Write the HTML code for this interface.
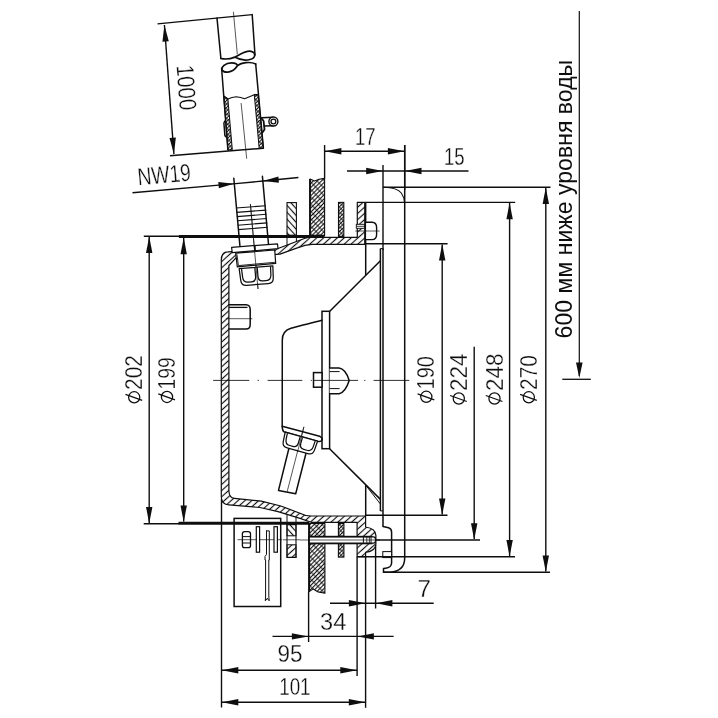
<!DOCTYPE html>
<html lang="ru">
<head>
<meta charset="utf-8">
<title>Drawing</title>
<style>
html,body{margin:0;padding:0;background:#fff;}
body{width:718px;height:718px;overflow:hidden;font-family:"Liberation Sans",sans-serif;}
svg{display:block;position:absolute;left:0;top:0;filter:grayscale(1);}
text{font-family:"Liberation Sans",sans-serif;fill:#0e0e0e;}
text.cad{stroke:#fff;stroke-width:0.3px;}
</style>
</head>
<body>
<svg width="718" height="718" viewBox="0 0 718 718">
<defs>
<pattern id="hA" width="4.6" height="4.6" patternUnits="userSpaceOnUse" patternTransform="rotate(-42)">
<line x1="0" y1="2.3" x2="4.6" y2="2.3" stroke="#0e0e0e" stroke-width="1.15"/>
</pattern>
<pattern id="hB" width="4.6" height="4.6" patternUnits="userSpaceOnUse" patternTransform="rotate(48)">
<line x1="0" y1="2.3" x2="4.6" y2="2.3" stroke="#0e0e0e" stroke-width="1.15"/>
</pattern>
<pattern id="hX" width="5.2" height="2.9" patternUnits="userSpaceOnUse" patternTransform="rotate(-45)">
<line x1="0" y1="1.45" x2="5.2" y2="1.45" stroke="#0e0e0e" stroke-width="1.1"/>
<line x1="2.6" y1="0" x2="2.6" y2="2.9" stroke="#0e0e0e" stroke-width="0.85"/>
</pattern>
<pattern id="hXs" width="3.4" height="2.5" patternUnits="userSpaceOnUse" patternTransform="rotate(-45)">
<line x1="0" y1="1.25" x2="3.4" y2="1.25" stroke="#0e0e0e" stroke-width="1.0"/>
<line x1="1.7" y1="0" x2="1.7" y2="2.5" stroke="#0e0e0e" stroke-width="0.85"/>
</pattern>
</defs>
<rect x="0" y="0" width="718" height="718" fill="#fff"/>

<g id="hose">
<path d="M217,18.1 L220.9,58.5" fill="none" stroke="#0e0e0e" stroke-width="1.5" stroke-linejoin="round" stroke-linecap="round"/>
<path d="M252.2,14.6 L255,55" fill="none" stroke="#0e0e0e" stroke-width="1.5" stroke-linejoin="round" stroke-linecap="round"/>
<path d="M220.9,58.5 Q228,60 234.8,57.1 C240,54.5 246,50.3 251,51.3 C256.2,52.4 256,58 250,59.5 C244,61 238,59 234.8,57.1" fill="none" stroke="#0e0e0e" stroke-width="1.7" stroke-linejoin="round" stroke-linecap="round"/>
<path d="M237.6,65.5 C236,62 228,62 224,65.3 C220,69 222,72.6 228,72.1 C233,71.6 236,68 237.6,65.5 C241,63 250,61 255.7,64.1" fill="none" stroke="#0e0e0e" stroke-width="1.7" stroke-linejoin="round" stroke-linecap="round"/>
<path d="M221.6,68.2 L227.9,150" fill="none" stroke="#0e0e0e" stroke-width="1.5" stroke-linejoin="round" stroke-linecap="round"/>
<path d="M255.7,64.1 L263.4,148.2" fill="none" stroke="#0e0e0e" stroke-width="1.5" stroke-linejoin="round" stroke-linecap="round"/>
<path d="M223.8,96.3 L227.9,150 L232.3,149.6 L227.9,99 Z" fill="url(#hXs)" stroke="#0e0e0e" stroke-width="1" stroke-linejoin="round" stroke-linecap="round"/>
<path d="M254.3,94.8 L259.2,148.6 L263.4,148.2 L258.4,95 Z" fill="url(#hXs)" stroke="#0e0e0e" stroke-width="1" stroke-linejoin="round" stroke-linecap="round"/>
<path d="M223.8,96.3 L227.9,99 Q232,97 236.2,96.7 Q241,97.2 244.6,98.8 L254.3,94.7 L258.4,95" fill="none" stroke="#0e0e0e" stroke-width="1.1" stroke-linejoin="round" stroke-linecap="round"/>
<line x1="233.4" y1="11.8" x2="237.3" y2="54.3" stroke="#0e0e0e" stroke-width="0.7"/>
<line x1="241.1" y1="103" x2="246.7" y2="158.7" stroke="#0e0e0e" stroke-width="0.7"/>
<path d="M224.9,121 L223.9,123 L224.9,135.6 L226.5,137.2" fill="none" stroke="#0e0e0e" stroke-width="1.5" stroke-linejoin="round" stroke-linecap="round"/>
<path d="M261.3,118 L263.6,121 L264.5,129.5 L262.6,132.3" fill="none" stroke="#0e0e0e" stroke-width="1.8" stroke-linejoin="round" stroke-linecap="round"/>
<line x1="261.6" y1="117.7" x2="273.2" y2="117.3" stroke="#0e0e0e" stroke-width="1.5"/>
<line x1="263.6" y1="126" x2="273.6" y2="125.7" stroke="#0e0e0e" stroke-width="1.5"/>
<circle cx="273.4" cy="121.5" r="4.5" fill="#fff" stroke="#0e0e0e" stroke-width="1.4"/>
<circle cx="273.4" cy="121.5" r="2.4" fill="none" stroke="#0e0e0e" stroke-width="1.3"/>
</g>
<g id="fitting">
<path d="M233.8,178.2 L239.93,246" fill="none" stroke="#0e0e0e" stroke-width="1.5" stroke-linejoin="round" stroke-linecap="round"/>
<path d="M262.41,176.3 L268.52,244.5" fill="none" stroke="#0e0e0e" stroke-width="1.5" stroke-linejoin="round" stroke-linecap="round"/>
<line x1="236.09" y1="208" x2="265.75" y2="205.7" stroke="#0e0e0e" stroke-width="1.15"/>
<line x1="236.49" y1="212.4" x2="266.14" y2="210.1" stroke="#0e0e0e" stroke-width="1.15"/>
<line x1="236.87" y1="216.6" x2="266.52" y2="214.3" stroke="#0e0e0e" stroke-width="1.15"/>
<line x1="237.25" y1="220.8" x2="266.89" y2="218.5" stroke="#0e0e0e" stroke-width="1.15"/>
<line x1="237.65" y1="225.2" x2="267.29" y2="222.9" stroke="#0e0e0e" stroke-width="1.15"/>
<line x1="238.05" y1="229.6" x2="267.68" y2="227.3" stroke="#0e0e0e" stroke-width="1.15"/>
<line x1="250.4" y1="204" x2="258" y2="289" stroke="#0e0e0e" stroke-width="0.7"/>
</g>
<g id="topbars">
<rect x="287" y="202.6" width="9.4" height="32.6" fill="url(#hB)" stroke="#0e0e0e" stroke-width="1.1"/>
<line x1="287" y1="237.8" x2="287" y2="245.2" stroke="#0e0e0e" stroke-width="1"/>
<line x1="296.4" y1="237.8" x2="296.4" y2="241.8" stroke="#0e0e0e" stroke-width="1"/>
<path d="M310,179 L314.6,180.9 L319,179.3 L324.6,178.4 L324.6,235.4 L310,235.4 Z" fill="url(#hX)" stroke="#0e0e0e" stroke-width="1.1" stroke-linejoin="round" stroke-linecap="round"/>
<line x1="310" y1="179" x2="310" y2="235.4" stroke="#0e0e0e" stroke-width="1.8"/>
<rect x="338.5" y="202.4" width="5.3" height="34" fill="url(#hXs)" stroke="#0e0e0e" stroke-width="1.1"/>
</g>
<g id="housing">
<path d="M221.3,260 Q221.3,252 228,251.9 L278,248.5 L303.7,238.8 L308,237.4 L357.3,237.4 L357.3,202.4 L365.3,202.4 L365.3,244.4 L312,244.4 Q305,244.8 298,247.6 L280,254.1 L236.2,257.6 L228.9,265.5 L228.9,491 Q229.2,497.8 234.5,498.4 L261.3,501.1 L280.8,506 L300,513.2 Q305,516 311.2,516 L365.6,516 L365.6,527 Q375.8,528.5 375.9,535.5 L375.9,544 Q375.8,551 365.6,552.4 L365.6,556.6 L357.1,556.6 L357.1,522.3 L311.1,522.3 L300,518.4 L278,511.6 L259.9,507.5 L229,504.8 Q221.3,504.5 221.3,497 Z" fill="url(#hA)" stroke="#0e0e0e" stroke-width="1.2" stroke-linejoin="round" stroke-linecap="round"/>
<line x1="178.9" y1="236.6" x2="324.6" y2="236.6" stroke="#0e0e0e" stroke-width="3"/>
<line x1="178.5" y1="523.3" x2="309.3" y2="523.3" stroke="#0e0e0e" stroke-width="3"/>
<line x1="365.3" y1="202.4" x2="365.3" y2="244.4" stroke="#0e0e0e" stroke-width="2.2"/>
<path d="M366.2,222.2 L372,222.2 Q376.6,222.4 376.6,227.4 L376.6,234.4 Q376.6,239.4 372,239.6 L366.2,239.6" fill="#fff" stroke="#0e0e0e" stroke-width="1.4" stroke-linejoin="round" stroke-linecap="round"/>
<line x1="355.3" y1="231" x2="379.7" y2="231" stroke="#0e0e0e" stroke-width="0.7"/>
<rect x="356.3" y="224.3" width="8.1" height="4" fill="#fff" stroke="#0e0e0e" stroke-width="0.9"/>
<line x1="356.3" y1="226.3" x2="364.4" y2="226.3" stroke="#0e0e0e" stroke-width="0.8"/>
</g>
<g id="topgland">
<path d="M231.6,247.3 L277.5,243.8 L278,248.7 L232.2,252.6 Z" fill="#fff" stroke="#0e0e0e" stroke-width="1.2" stroke-linejoin="round" stroke-linecap="round"/>
<path d="M235.7,253.2 L274.7,250 L275.7,263.4 L237.3,266.9 Z" fill="#fff" stroke="#0e0e0e" stroke-width="1.2" stroke-linejoin="round" stroke-linecap="round"/>
<path d="M237,254.6 L238.4,265.6 L274.6,262.3" fill="none" stroke="#0e0e0e" stroke-width="0.9" stroke-linejoin="round" stroke-linecap="round"/>
<g transform="translate(256,267.3) rotate(-4.9)">
<path d="M-16.9,0 L-16.3,12 Q-16,17.2 -10.8,17.2 L10.8,17.2 Q16,17.2 16.3,12 L16.9,0 Z" fill="#fff" stroke="#0e0e0e" stroke-width="1.25" stroke-linejoin="round" stroke-linecap="round"/>
<path d="M-14.5,0.8 L-14.2,8.7 Q-13.9,14.2 -9,14.2 L-5.7,14.2 Q-1.2,14.2 -1.2,9.2 L-1.2,0.8" fill="none" stroke="#0e0e0e" stroke-width="1.25" stroke-linejoin="round" stroke-linecap="round"/>
<path d="M14.5,0.8 L14.2,8.7 Q13.9,14.2 9,14.2 L5.7,14.2 Q1.2,14.2 1.2,9.2 L1.2,0.8" fill="none" stroke="#0e0e0e" stroke-width="1.25" stroke-linejoin="round" stroke-linecap="round"/>
</g>
<line x1="254.7" y1="245.6" x2="255.1" y2="251" stroke="#0e0e0e" stroke-width="1.8"/>
<line x1="250.4" y1="204" x2="258" y2="289" stroke="#0e0e0e" stroke-width="0.7"/>
</g>
<path d="M228.9,304.8 L246,304.8 Q250.2,305 250.2,309.5 L250.2,324.5 Q250.2,329.1 246,329.1 L228.9,329.1" fill="none" stroke="#0e0e0e" stroke-width="1.5" stroke-linejoin="round" stroke-linecap="round"/>
<line x1="228.9" y1="307.4" x2="247.5" y2="307.4" stroke="#0e0e0e" stroke-width="1.3"/>
<line x1="226" y1="318.7" x2="252.4" y2="318.7" stroke="#0e0e0e" stroke-width="0.7"/>
<g id="lamp">
<line x1="365.7" y1="244.4" x2="365.7" y2="275" stroke="#0e0e0e" stroke-width="1.5"/>
<line x1="380.4" y1="260.8" x2="329.8" y2="311.3" stroke="#0e0e0e" stroke-width="1.5"/>
<line x1="380.4" y1="248.6" x2="380.4" y2="510.9" stroke="#0e0e0e" stroke-width="1.5"/>
<line x1="383" y1="248.6" x2="383" y2="526.4" stroke="#0e0e0e" stroke-width="1.5"/>
<line x1="380.4" y1="248.6" x2="383" y2="248.6" stroke="#0e0e0e" stroke-width="1"/>
<rect x="322" y="311.3" width="7.6" height="137.4" fill="#fff" stroke="#0e0e0e" stroke-width="1.5"/>
<path d="M322,320.2 C312,323 300,325.5 291,328.2 Q282.3,330.8 282.3,340 L282.2,426.3 L319.6,436.2 Q322,437 322.2,439.4" fill="none" stroke="#0e0e0e" stroke-width="1.5" stroke-linejoin="round" stroke-linecap="round"/>
<path d="M282.2,426.3 Q282.2,430.6 283.8,431.7 L319.0,441.6 Q321.6,441.8 322.2,439.4" fill="none" stroke="#0e0e0e" stroke-width="1.5" stroke-linejoin="round" stroke-linecap="round"/>
<line x1="329.6" y1="448.7" x2="380.4" y2="499.4" stroke="#0e0e0e" stroke-width="1.5"/>
<line x1="365.7" y1="485.2" x2="380.4" y2="504" stroke="#0e0e0e" stroke-width="1"/>
<line x1="365.7" y1="485.2" x2="365.7" y2="516" stroke="#0e0e0e" stroke-width="1.5"/>
<line x1="380.4" y1="510.9" x2="383" y2="510.9" stroke="#0e0e0e" stroke-width="1"/>
<rect x="313.5" y="372.6" width="8.5" height="14.6" fill="#fff" stroke="#0e0e0e" stroke-width="1.5"/>
<path d="M329.6,368.1 L339.1,368.1 Q345.5,369 349.2,380.4 Q345.5,392 339.1,393.8 L329.6,393.8" fill="#fff" stroke="#0e0e0e" stroke-width="1.5" stroke-linejoin="round" stroke-linecap="round"/>
<line x1="329.6" y1="371.6" x2="339.6" y2="371.6" stroke="#0e0e0e" stroke-width="1"/>
<line x1="329.6" y1="388.6" x2="339.6" y2="388.6" stroke="#0e0e0e" stroke-width="1"/>
<line x1="213.1" y1="380.4" x2="249.3" y2="380.4" stroke="#0e0e0e" stroke-width="0.85"/>
<line x1="257.6" y1="380.4" x2="258.9" y2="380.4" stroke="#0e0e0e" stroke-width="0.85"/>
<line x1="267.6" y1="380.4" x2="302.3" y2="380.4" stroke="#0e0e0e" stroke-width="0.85"/>
<line x1="310.8" y1="380.4" x2="311.9" y2="380.4" stroke="#0e0e0e" stroke-width="0.85"/>
<line x1="313.6" y1="380.4" x2="358" y2="380.4" stroke="#0e0e0e" stroke-width="0.85"/>
<line x1="364.2" y1="380.4" x2="365.4" y2="380.4" stroke="#0e0e0e" stroke-width="0.85"/>
<line x1="373.6" y1="380.4" x2="409.3" y2="380.4" stroke="#0e0e0e" stroke-width="0.85"/>
<path d="M289,448 L278.5,490.4 L295.7,493.7 L306,453.2" fill="#fff" stroke="#0e0e0e" stroke-width="1.5" stroke-linejoin="round" stroke-linecap="round"/>
<line x1="303.9" y1="426.8" x2="287.2" y2="491.5" stroke="#0e0e0e" stroke-width="0.7"/>
<g transform="translate(301.4,436.7) rotate(15.6)">
<path d="M-16.8,0 L-16.2,9.4 Q-15.9,14.6 -10.7,14.6 L10.7,14.6 Q15.9,14.6 16.2,9.4 L16.8,0 Z" fill="#fff" stroke="#0e0e0e" stroke-width="1.25" stroke-linejoin="round" stroke-linecap="round"/>
<path d="M-14.4,0.8 L-14.1,6.1 Q-13.8,11.6 -8.9,11.6 L-5.7,11.6 Q-1.2,11.6 -1.2,6.6 L-1.2,0.8" fill="none" stroke="#0e0e0e" stroke-width="1.25" stroke-linejoin="round" stroke-linecap="round"/>
<path d="M14.4,0.8 L14.1,6.1 Q13.8,11.6 8.9,11.6 L5.7,11.6 Q1.2,11.6 1.2,6.6 L1.2,0.8" fill="none" stroke="#0e0e0e" stroke-width="1.25" stroke-linejoin="round" stroke-linecap="round"/>
</g>
<line x1="303.9" y1="426.8" x2="297.5" y2="452" stroke="#0e0e0e" stroke-width="0.7"/>
</g>
<g id="ring">
<line x1="404.7" y1="145" x2="404.7" y2="558" stroke="#0e0e0e" stroke-width="1.5"/>
<path d="M384,187.3 C392,187.6 398.5,189.4 401.3,193 C403.5,196 404.4,199 404.6,203" fill="none" stroke="#0e0e0e" stroke-width="1.1" stroke-linejoin="round" stroke-linecap="round"/>
<path d="M404.7,558 C404.7,567 399,571.6 390,572.3 L383.5,572.3" fill="none" stroke="#0e0e0e" stroke-width="1.5" stroke-linejoin="round" stroke-linecap="round"/>
<path d="M383.0,526.4 L388.5,527.8 Q391.6,528.6 391.6,532.2 L391.6,563 Q391.4,567.6 385.5,568.3 L383.5,568.6 L383.5,572.3" fill="none" stroke="#0e0e0e" stroke-width="1.5" stroke-linejoin="round" stroke-linecap="round"/>
<rect x="382.8" y="551.6" width="8.8" height="6" fill="#fff" stroke="#0e0e0e" stroke-width="1"/>
</g>
<g id="bottom">
<line x1="287" y1="514.6" x2="287" y2="524.6" stroke="#0e0e0e" stroke-width="1"/>
<line x1="296" y1="517.2" x2="296" y2="524.6" stroke="#0e0e0e" stroke-width="1"/>
<rect x="287" y="524.6" width="9" height="32.8" fill="#fff" stroke="#0e0e0e" stroke-width="1.1"/>
<rect x="287" y="524.6" width="9" height="11.2" fill="url(#hB)" stroke="#0e0e0e" stroke-width="1"/>
<rect x="287" y="544.8" width="9" height="12.6" fill="url(#hA)" stroke="#0e0e0e" stroke-width="1"/>
<path d="M309.3,523.5 L324.9,523.5 L324.9,593.2 L318.1,591.9 L313.2,589.1 L309.3,591.4 Z" fill="url(#hX)" stroke="#0e0e0e" stroke-width="1.1" stroke-linejoin="round" stroke-linecap="round"/>
<line x1="309.1" y1="523.5" x2="309.1" y2="592" stroke="#0e0e0e" stroke-width="2"/>
<rect x="338.4" y="523.5" width="5.5" height="33.6" fill="url(#hXs)" stroke="#0e0e0e" stroke-width="1.1"/>
<rect x="309" y="536.7" width="62.5" height="6.7" fill="#fff" stroke="#0e0e0e" stroke-width="1.8"/>
<path d="M371.5,536.9 L373.5,536.9 Q375.6,537 375.6,540 Q375.6,543 373.5,543.2 L371.5,543.2" fill="#fff" stroke="#0e0e0e" stroke-width="1.2" stroke-linejoin="round" stroke-linecap="round"/>
<line x1="363.4" y1="536.7" x2="363.4" y2="543.4" stroke="#0e0e0e" stroke-width="1"/>
<line x1="366.8" y1="536.7" x2="366.8" y2="543.4" stroke="#0e0e0e" stroke-width="0.8"/>
<line x1="369.4" y1="536.7" x2="369.4" y2="543.4" stroke="#0e0e0e" stroke-width="0.8"/>
<line x1="300" y1="540" x2="380" y2="540" stroke="#0e0e0e" stroke-width="0.7"/>
<line x1="283" y1="539.8" x2="300" y2="539.8" stroke="#0e0e0e" stroke-width="0.7"/>
<rect x="234.1" y="518.4" width="46.6" height="88.1" fill="none" stroke="#0e0e0e" stroke-width="1.5"/>
<rect x="242.4" y="531.6" width="8.1" height="16" fill="#fff" stroke="#0e0e0e" stroke-width="1.3" rx="2.2"/>
<line x1="242.4" y1="536.6" x2="250.5" y2="536.6" stroke="#0e0e0e" stroke-width="1"/>
<line x1="242.4" y1="543" x2="250.5" y2="543" stroke="#0e0e0e" stroke-width="1"/>
<line x1="237.5" y1="539.7" x2="282.1" y2="539.7" stroke="#0e0e0e" stroke-width="0.7"/>
<rect x="256.3" y="526.7" width="3.3" height="25.5" fill="#fff" stroke="#0e0e0e" stroke-width="1.2"/>
<rect x="274" y="526.7" width="3.4" height="25.5" fill="#fff" stroke="#0e0e0e" stroke-width="1.2"/>
<path d="M266.5,530.9 L269.3,530.9 L269.3,560 L268.8,560 L268.8,596 L269.2,600.8 L267.3,598.5 M266.5,530.9 L266.5,554.5 L265.0,556.5 L265.0,560 L265.6,560 L265.6,596 L265.3,600.8 L267.3,598.5" fill="none" stroke="#0e0e0e" stroke-width="1" stroke-linejoin="round" stroke-linecap="round"/>
</g>
<g id="dims">
<line x1="383" y1="187.2" x2="550.5" y2="187.2" stroke="#0e0e0e" stroke-width="1.4"/>
<line x1="365.5" y1="202.4" x2="515.2" y2="202.4" stroke="#0e0e0e" stroke-width="1.4"/>
<line x1="365.5" y1="243.8" x2="447.6" y2="243.8" stroke="#0e0e0e" stroke-width="1.4"/>
<line x1="365.5" y1="515.3" x2="447.5" y2="515.3" stroke="#0e0e0e" stroke-width="1.4"/>
<line x1="375.5" y1="540" x2="480" y2="540" stroke="#0e0e0e" stroke-width="1.4"/>
<line x1="357.1" y1="556.8" x2="515" y2="556.8" stroke="#0e0e0e" stroke-width="1.4"/>
<line x1="383.5" y1="572.3" x2="550" y2="572.3" stroke="#0e0e0e" stroke-width="1.4"/>
<line x1="442.2" y1="244.5" x2="442.2" y2="514.6" stroke="#0e0e0e" stroke-width="1.4"/>
<polygon points="442.2,244 445.4,260.5 439,260.5" fill="#0e0e0e"/>
<polygon points="442.2,515 439,498.5 445.4,498.5" fill="#0e0e0e"/>
<line x1="474.2" y1="346.7" x2="474.2" y2="539" stroke="#0e0e0e" stroke-width="1.4"/>
<polygon points="474.2,539.7 471,523.2 477.4,523.2" fill="#0e0e0e"/>
<line x1="509.6" y1="203" x2="509.6" y2="556" stroke="#0e0e0e" stroke-width="1.4"/>
<polygon points="509.6,202.7 512.8,219.2 506.4,219.2" fill="#0e0e0e"/>
<polygon points="509.6,556.5 506.4,540 512.8,540" fill="#0e0e0e"/>
<line x1="545.8" y1="188" x2="545.8" y2="571.5" stroke="#0e0e0e" stroke-width="1.4"/>
<polygon points="545.8,187.5 549,204 542.6,204" fill="#0e0e0e"/>
<polygon points="545.8,572 542.6,555.5 549,555.5" fill="#0e0e0e"/>
<g transform="translate(433.9,403) rotate(-90)">
<circle cx="6.2" cy="-7.6" r="5.6" fill="none" stroke="#0e0e0e" stroke-width="1.25"/>
<line x1="3.2" y1="0.4" x2="9.2" y2="-16.3" stroke="#0e0e0e" stroke-width="1.25"/>
<text x="13.6" y="0.4" font-size="24.4" textLength="33.3" lengthAdjust="spacingAndGlyphs" class="cad">190</text>
</g>
<g transform="translate(466.4,404.7) rotate(-90)">
<circle cx="6.2" cy="-7.6" r="5.6" fill="none" stroke="#0e0e0e" stroke-width="1.25"/>
<line x1="3.2" y1="0.4" x2="9.2" y2="-16.3" stroke="#0e0e0e" stroke-width="1.25"/>
<text x="13.6" y="0.4" font-size="24.4" textLength="37.6" lengthAdjust="spacingAndGlyphs" class="cad">224</text>
</g>
<g transform="translate(502.1,404.7) rotate(-90)">
<circle cx="6.2" cy="-7.6" r="5.6" fill="none" stroke="#0e0e0e" stroke-width="1.25"/>
<line x1="3.2" y1="0.4" x2="9.2" y2="-16.3" stroke="#0e0e0e" stroke-width="1.25"/>
<text x="13.6" y="0.4" font-size="24.4" textLength="37.6" lengthAdjust="spacingAndGlyphs" class="cad">248</text>
</g>
<g transform="translate(536.4,403.5) rotate(-90)">
<circle cx="6.2" cy="-7.6" r="5.6" fill="none" stroke="#0e0e0e" stroke-width="1.25"/>
<line x1="3.2" y1="0.4" x2="9.2" y2="-16.3" stroke="#0e0e0e" stroke-width="1.25"/>
<text x="13.6" y="0.4" font-size="24.4" textLength="34.9" lengthAdjust="spacingAndGlyphs" class="cad">270</text>
</g>
<line x1="579.3" y1="11" x2="579.3" y2="376" stroke="#0e0e0e" stroke-width="1.2"/>
<polygon points="579.3,378 576,362.5 582.6,362.5" fill="#0e0e0e"/>
<line x1="562.3" y1="379.3" x2="590.8" y2="379.3" stroke="#0e0e0e" stroke-width="1.3"/>
<text transform="translate(571.8,338.4) rotate(-90)" font-size="23" textLength="278.6" lengthAdjust="spacingAndGlyphs">600 мм ниже уровня воды</text>
<line x1="324.6" y1="145" x2="324.6" y2="178.5" stroke="#0e0e0e" stroke-width="1.4"/>
<line x1="404.7" y1="145" x2="404.7" y2="190" stroke="#0e0e0e" stroke-width="1.4"/>
<line x1="383" y1="165" x2="383" y2="250" stroke="#0e0e0e" stroke-width="1.4"/>
<line x1="324.6" y1="151.3" x2="404.7" y2="151.3" stroke="#0e0e0e" stroke-width="1.4"/>
<polygon points="324.9,151.3 341.4,148.1 341.4,154.5" fill="#0e0e0e"/>
<polygon points="404.4,151.3 387.9,154.5 387.9,148.1" fill="#0e0e0e"/>
<text x="355" y="145.4" font-size="24.4" textLength="20.6" lengthAdjust="spacingAndGlyphs" class="cad">17</text>
<line x1="347" y1="171" x2="468.5" y2="171" stroke="#0e0e0e" stroke-width="1.4"/>
<polygon points="382.7,171 366.2,174.2 366.2,167.8" fill="#0e0e0e"/>
<polygon points="405,171 421.5,167.8 421.5,174.2" fill="#0e0e0e"/>
<text x="444" y="165.4" font-size="24.4" textLength="20.6" lengthAdjust="spacingAndGlyphs" class="cad">15</text>
<line x1="143.8" y1="236.3" x2="180" y2="236.3" stroke="#0e0e0e" stroke-width="1.4"/>
<line x1="143.7" y1="523.8" x2="179" y2="523.8" stroke="#0e0e0e" stroke-width="1.4"/>
<line x1="149.2" y1="237" x2="149.2" y2="523" stroke="#0e0e0e" stroke-width="1.4"/>
<polygon points="149.2,236.6 152.4,253.1 146,253.1" fill="#0e0e0e"/>
<polygon points="149.2,523.4 146,506.9 152.4,506.9" fill="#0e0e0e"/>
<line x1="183.7" y1="238" x2="183.7" y2="521.5" stroke="#0e0e0e" stroke-width="1.4"/>
<polygon points="183.7,237.8 186.9,254.3 180.5,254.3" fill="#0e0e0e"/>
<polygon points="183.7,522 180.5,505.5 186.9,505.5" fill="#0e0e0e"/>
<g transform="translate(141.8,403.5) rotate(-90)">
<circle cx="6.2" cy="-7.6" r="5.6" fill="none" stroke="#0e0e0e" stroke-width="1.25"/>
<line x1="3.2" y1="0.4" x2="9.2" y2="-16.3" stroke="#0e0e0e" stroke-width="1.25"/>
<text x="13.6" y="0.4" font-size="24.4" textLength="34.9" lengthAdjust="spacingAndGlyphs" class="cad">202</text>
</g>
<g transform="translate(174.6,403.1) rotate(-90)">
<circle cx="6.2" cy="-7.6" r="5.6" fill="none" stroke="#0e0e0e" stroke-width="1.25"/>
<line x1="3.2" y1="0.4" x2="9.2" y2="-16.3" stroke="#0e0e0e" stroke-width="1.25"/>
<text x="13.6" y="0.4" font-size="24.4" textLength="32.2" lengthAdjust="spacingAndGlyphs" class="cad">199</text>
</g>
<line x1="221.5" y1="499" x2="221.5" y2="707.5" stroke="#0e0e0e" stroke-width="1.4"/>
<line x1="308.6" y1="592" x2="308.6" y2="642" stroke="#0e0e0e" stroke-width="1.4"/>
<line x1="357.1" y1="556.4" x2="357.1" y2="676" stroke="#0e0e0e" stroke-width="1.4"/>
<line x1="365.6" y1="556.4" x2="365.6" y2="707.8" stroke="#0e0e0e" stroke-width="1.4"/>
<line x1="375.6" y1="545" x2="375.6" y2="608.5" stroke="#0e0e0e" stroke-width="1.4"/>
<line x1="330" y1="603.2" x2="433.7" y2="603.2" stroke="#0e0e0e" stroke-width="1.4"/>
<polygon points="365.4,603.2 348.9,606.4 348.9,600" fill="#0e0e0e"/>
<polygon points="375.9,603.2 392.4,600 392.4,606.4" fill="#0e0e0e"/>
<text x="417.6" y="596.7" font-size="24.4" textLength="13.5" lengthAdjust="spacingAndGlyphs" class="cad">7</text>
<line x1="272.5" y1="636.4" x2="393.6" y2="636.4" stroke="#0e0e0e" stroke-width="1.4"/>
<polygon points="308.4,636.4 291.9,639.6 291.9,633.2" fill="#0e0e0e"/>
<polygon points="357.4,636.4 373.9,633.2 373.9,639.6" fill="#0e0e0e"/>
<text x="320" y="630.1" font-size="24.4" textLength="26.3" lengthAdjust="spacingAndGlyphs" class="cad">34</text>
<line x1="221.5" y1="670.2" x2="357.1" y2="670.2" stroke="#0e0e0e" stroke-width="1.4"/>
<polygon points="221.8,670.2 238.3,667 238.3,673.4" fill="#0e0e0e"/>
<polygon points="356.8,670.2 340.3,673.4 340.3,667" fill="#0e0e0e"/>
<text x="277.6" y="662.4" font-size="24.4" textLength="25" lengthAdjust="spacingAndGlyphs" class="cad">95</text>
<line x1="221.5" y1="702.2" x2="365.6" y2="702.2" stroke="#0e0e0e" stroke-width="1.4"/>
<polygon points="221.8,702.2 238.3,699 238.3,705.4" fill="#0e0e0e"/>
<polygon points="365.3,702.2 348.8,705.4 348.8,699" fill="#0e0e0e"/>
<text x="279.2" y="694.9" font-size="24.4" textLength="31.4" lengthAdjust="spacingAndGlyphs" class="cad">101</text>
<line x1="157.5" y1="23.9" x2="252.2" y2="14.6" stroke="#0e0e0e" stroke-width="1.4"/>
<line x1="170" y1="155.8" x2="263.4" y2="148.2" stroke="#0e0e0e" stroke-width="1.4"/>
<line x1="164.4" y1="25" x2="173.9" y2="154.1" stroke="#0e0e0e" stroke-width="1.4"/>
<polygon points="164.4,25 168.8,41.22 162.42,41.69" fill="#0e0e0e"/>
<polygon points="173.9,154.1 169.5,137.88 175.88,137.41" fill="#0e0e0e"/>
<text transform="translate(186.5,87.5) rotate(85.79)" x="-22.8" y="8.4" font-size="24.4" textLength="45.6" lengthAdjust="spacingAndGlyphs" class="cad">1000</text>
<line x1="132.5" y1="192.8" x2="233" y2="183.9" stroke="#0e0e0e" stroke-width="1.4"/>
<line x1="233" y1="183.9" x2="263" y2="181" stroke="#0e0e0e" stroke-width="1.4"/>
<polygon points="234,183.8 218.84,188.35 218.28,181.98" fill="#0e0e0e"/>
<line x1="263" y1="181" x2="298.4" y2="177.5" stroke="#0e0e0e" stroke-width="1.4"/>
<polygon points="263.2,181 278.36,176.45 278.92,182.82" fill="#0e0e0e"/>
<text transform="translate(163.9,174.5) rotate(-5.06)" x="-26.6" y="8.4" font-size="24.4" textLength="53.6" lengthAdjust="spacingAndGlyphs" class="cad">NW19</text>
</g>
</svg>
</body>
</html>
